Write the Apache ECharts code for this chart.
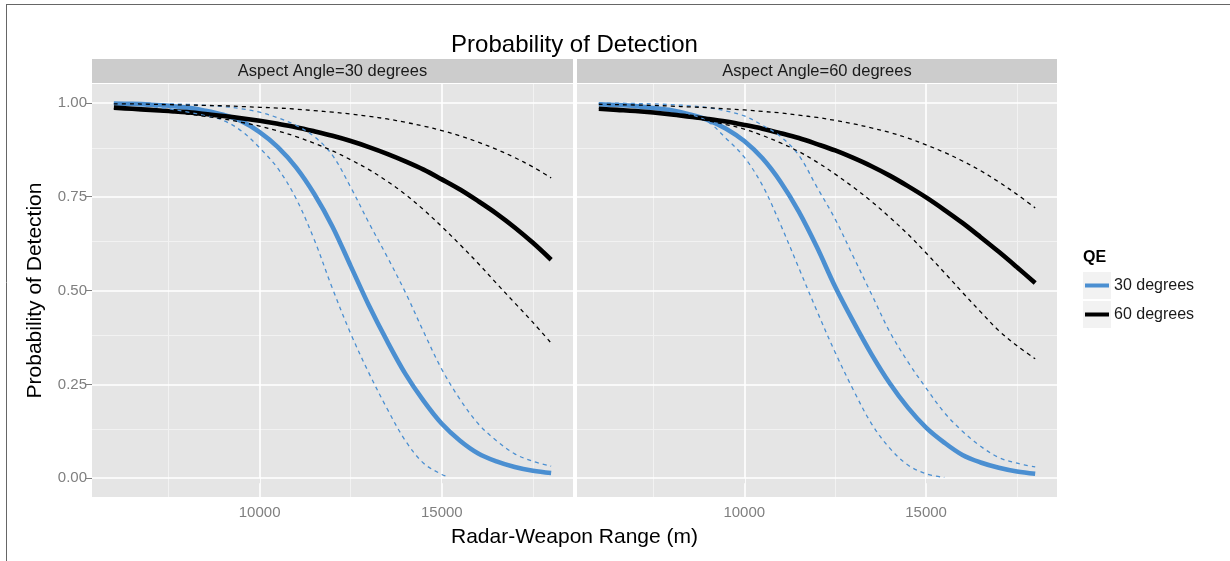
<!DOCTYPE html>
<html>
<head>
<meta charset="utf-8">
<script src="https://cdn.jsdelivr.net/npm/echarts@6/dist/echarts.min.js"></script>
<style>
html,body{margin:0;padding:0;background:#ffffff;}
#chart{width:1230px;height:561px;}
</style>
</head>
<body>
<div id="chart"></div>
<script>
// ---------------- data ----------------
const panelTitles = ['Aspect Angle=30 degrees', 'Aspect Angle=60 degrees'];
const legendLabels = ['30 degrees', '60 degrees'];
const chartTitle = 'Probability of Detection';
const xTitle = 'Radar-Weapon Range (m)';
const yTitle = 'Probability of Detection';
const legendTitle = 'QE';

const yTicks = [0, 0.25, 0.5, 0.75, 1];
const yMinor = [0.125, 0.375, 0.625, 0.875];
const xTicks = [10000, 15000];
const xMinor = [7500, 12500, 17500];

const range = [6000,6500,7000,7500,8000,8500,9000,9500,10000,10500,11000,11500,12000,
               12500,13000,13500,14000,14500,15000,15500,16000,16500,17000,17500,18000];
const rangeBlueLowA30 = [6000,6500,7000,7500,8000,8500,9000,9500,10000,10500,11000,11500,
                         12000,12500,13000,13500,14000,14500,15000,15200];
const rangeBlueLowA60 = [6000,6500,7000,7500,8000,8500,9000,9500,10000,10500,11000,11500,
                         12000,12500,13000,13500,14000,14500,15000,15500];

// Aspect angle 30
const blueA30    = [0.998,0.997,0.995,0.992,0.987,0.979,0.968,0.951,0.922,0.882,0.828,0.757,0.67,0.565,0.46,0.365,0.278,0.206,0.145,0.1,0.066,0.045,0.03,0.02,0.014];
const blueLowA30 = [0.997,0.994,0.99,0.984,0.976,0.966,0.953,0.925,0.88,0.825,0.745,0.635,0.505,0.385,0.28,0.185,0.1,0.04,0.01,0.003];
const blueUpA30  = [0.999,0.999,0.998,0.997,0.996,0.993,0.99,0.984,0.975,0.96,0.94,0.91,0.86,0.775,0.68,0.59,0.495,0.39,0.29,0.21,0.145,0.1,0.065,0.045,0.032];
const blackA30   = [0.987,0.984,0.981,0.978,0.975,0.97,0.965,0.959,0.952,0.944,0.935,0.924,0.912,0.898,0.882,0.864,0.844,0.822,0.796,0.769,0.738,0.705,0.668,0.627,0.582];
const blackLowA30= [0.985,0.982,0.979,0.975,0.97,0.964,0.957,0.948,0.938,0.925,0.91,0.892,0.872,0.848,0.822,0.791,0.756,0.715,0.67,0.622,0.572,0.519,0.467,0.415,0.36];
const blackUpA30 = [0.997,0.997,0.996,0.995,0.994,0.993,0.992,0.99,0.988,0.986,0.983,0.979,0.975,0.97,0.964,0.957,0.948,0.938,0.926,0.912,0.895,0.876,0.854,0.829,0.80];

// Aspect angle 60
const blueA60    = [0.996,0.994,0.991,0.986,0.98,0.969,0.954,0.931,0.898,0.852,0.789,0.71,0.615,0.51,0.417,0.33,0.253,0.188,0.135,0.095,0.062,0.042,0.028,0.018,0.012];
const blueLowA60 = [0.998,0.996,0.993,0.988,0.982,0.97,0.95,0.905,0.855,0.78,0.675,0.56,0.445,0.335,0.235,0.145,0.08,0.035,0.012,0.002];
const blueUpA60  = [0.999,0.999,0.998,0.997,0.995,0.992,0.987,0.978,0.965,0.94,0.91,0.86,0.775,0.69,0.59,0.49,0.39,0.31,0.24,0.175,0.125,0.085,0.055,0.04,0.03];
const blackA60   = [0.984,0.981,0.978,0.974,0.969,0.963,0.957,0.95,0.941,0.931,0.919,0.906,0.89,0.873,0.853,0.831,0.806,0.778,0.748,0.715,0.68,0.642,0.603,0.562,0.52];
const blackLowA60= [0.985,0.982,0.978,0.973,0.968,0.961,0.952,0.942,0.93,0.913,0.893,0.87,0.842,0.81,0.775,0.737,0.695,0.65,0.6,0.548,0.495,0.443,0.393,0.353,0.318];
const blackUpA60 = [0.996,0.995,0.994,0.993,0.991,0.989,0.987,0.984,0.981,0.977,0.973,0.967,0.961,0.953,0.944,0.933,0.921,0.906,0.888,0.868,0.845,0.819,0.789,0.756,0.72];

// ---------------- styles ----------------
const FONT = '"Liberation Sans", Arial, Helvetica, sans-serif';
const BLUE = '#4b8fd1';
const BLACK = '#000000';
const PANEL_BG = '#e5e5e5';
const STRIP_BG = '#cccccc';
const TICK_COL = '#7f7f7f';

const grids = [
  {left: 92, top: 84, width: 481, height: 413},
  {left: 577, top: 84, width: 480, height: 413}
];

function pts(xs, ys) { return xs.map((x, i) => [x, ys[i]]); }

function gridMarkLine() {
  const minorStyle = {color: '#f2f2f2', width: 1, type: 'solid'};
  const majorStyle = {color: '#ffffff', width: 1.6, type: 'solid'};
  const data = [];
  yMinor.forEach(v => data.push({yAxis: v, lineStyle: minorStyle}));
  xMinor.forEach(v => data.push({xAxis: v, lineStyle: minorStyle}));
  yTicks.forEach(v => data.push({yAxis: v, lineStyle: majorStyle}));
  xTicks.forEach(v => data.push({xAxis: v, lineStyle: majorStyle}));
  return {
    silent: true, z: 1, animation: false,
    symbol: ['none', 'none'],
    label: {show: false},
    emphasis: {disabled: true},
    data: data
  };
}

function solid(name, idx, xs, ys, color, withGrid) {
  const s = {
    name: name, type: 'line', xAxisIndex: idx, yAxisIndex: idx,
    data: pts(xs, ys), showSymbol: false, symbol: 'none',
    smooth: 0.35,
    lineStyle: {color: color, width: 4.6, cap: 'butt'},
    itemStyle: {color: color},
    emphasis: {disabled: true}, z: 3
  };
  if (withGrid) s.markLine = gridMarkLine();
  return s;
}
function dashed(name, idx, xs, ys, color) {
  return {
    name: name, type: 'line', xAxisIndex: idx, yAxisIndex: idx,
    data: pts(xs, ys), showSymbol: false, symbol: 'none',
    smooth: 0.35,
    lineStyle: {color: color, width: 1.3, type: [4, 4]},
    itemStyle: {color: color},
    emphasis: {disabled: true}, z: 4
  };
}

const series = [
  solid(legendLabels[0], 0, range, blueA30, BLUE, true),
  solid(legendLabels[1], 0, range, blackA30, BLACK, false),
  dashed('30 degrees lower (30)', 0, rangeBlueLowA30, blueLowA30, BLUE),
  dashed('30 degrees upper (30)', 0, range, blueUpA30, BLUE),
  dashed('60 degrees lower (30)', 0, range, blackLowA30, BLACK),
  dashed('60 degrees upper (30)', 0, range, blackUpA30, BLACK),
  solid(legendLabels[0], 1, range, blueA60, BLUE, true),
  solid(legendLabels[1], 1, range, blackA60, BLACK, false),
  dashed('30 degrees lower (60)', 1, rangeBlueLowA60, blueLowA60, BLUE),
  dashed('30 degrees upper (60)', 1, range, blueUpA60, BLUE),
  dashed('60 degrees lower (60)', 1, range, blackLowA60, BLACK),
  dashed('60 degrees upper (60)', 1, range, blackUpA60, BLACK)
];

function xAxis(idx) {
  return {
    type: 'value', gridIndex: idx, min: 5400, max: 18600,
    axisLine: {show: false},
    axisTick: {show: true, customValues: xTicks, length: 5, lineStyle: {color: TICK_COL, width: 1}},
    axisLabel: {customValues: xTicks, color: TICK_COL, fontSize: 15, fontFamily: FONT, margin: 8,
                formatter: v => String(Math.round(v))},
    splitLine: {show: false}, minorSplitLine: {show: false}
  };
}
function yAxis(idx) {
  const a = {
    type: 'value', gridIndex: idx, min: -0.05, max: 1.05,
    axisLine: {show: false},
    axisTick: {show: idx === 0, customValues: yTicks, length: 6, lineStyle: {color: TICK_COL, width: 1}},
    axisLabel: {show: idx === 0, customValues: yTicks, color: TICK_COL, fontSize: 15, fontFamily: FONT, margin: 5,
                formatter: v => v.toFixed(2)},
    splitLine: {show: false}
  };
  if (idx === 0) {
    a.name = yTitle; a.nameLocation = 'middle'; a.nameGap = 46; a.nameRotate = 90;
    a.nameTextStyle = {color: '#000', fontSize: 21, fontFamily: FONT};
  }
  return a;
}

const graphics = [
  // outer frame lines
  {type: 'line', shape: {x1: 6, y1: 4.5, x2: 1230, y2: 4.5}, style: {stroke: '#666666', lineWidth: 1}, silent: true},
  {type: 'line', shape: {x1: 6.5, y1: 4, x2: 6.5, y2: 561}, style: {stroke: '#666666', lineWidth: 1}, silent: true},
  // legend key backgrounds
  {type: 'rect', shape: {x: 1083, y: 272, width: 28, height: 27}, style: {fill: '#f2f2f2'}, z: 0, silent: true},
  {type: 'rect', shape: {x: 1083, y: 301, width: 28, height: 27}, style: {fill: '#f2f2f2'}, z: 0, silent: true},
  {type: 'text', x: 1083, y: 258, style: {text: legendTitle, fill: '#000', font: 'bold 16px ' + FONT, textVerticalAlign: 'middle'}, silent: true},
  // x axis title
  {type: 'text', x: 574.5, y: 537, style: {text: xTitle, fill: '#000', font: '21px ' + FONT, textAlign: 'center', textVerticalAlign: 'middle'}, silent: true}
];
grids.forEach((g, i) => {
  graphics.push({type: 'rect', shape: {x: g.left, y: 59, width: g.width, height: 24}, style: {fill: STRIP_BG}, silent: true});
  graphics.push({type: 'text', x: g.left + g.width / 2, y: 71.5,
    style: {text: panelTitles[i], fill: '#1a1a1a', font: '16.5px ' + FONT, textAlign: 'center', textVerticalAlign: 'middle'}, silent: true});
});

const chart = echarts.init(document.getElementById('chart'), null, {renderer: 'canvas'});
chart.setOption({
  animation: false,
  backgroundColor: '#ffffff',
  title: {
    text: chartTitle, left: 574.5, top: 45, padding: 0,
    textAlign: 'center', textVerticalAlign: 'middle',
    textStyle: {color: '#000', fontSize: 24, fontWeight: 'normal', fontFamily: FONT}
  },
  legend: {
    data: legendLabels, orient: 'vertical', left: 1085, top: 272, padding: 0,
    icon: 'rect', itemWidth: 24, itemHeight: 4, itemGap: 2,
    itemStyle: {borderWidth: 0},
    selectedMode: false,
    textStyle: {color: '#1a1a1a', fontSize: 16, fontFamily: FONT, lineHeight: 27}
  },
  grid: grids.map(g => Object.assign({show: true, backgroundColor: PANEL_BG, borderWidth: 0, containLabel: false}, g)),
  xAxis: [xAxis(0), xAxis(1)],
  yAxis: [yAxis(0), yAxis(1)],
  graphic: graphics,
  series: series
});
</script>
</body>
</html>
